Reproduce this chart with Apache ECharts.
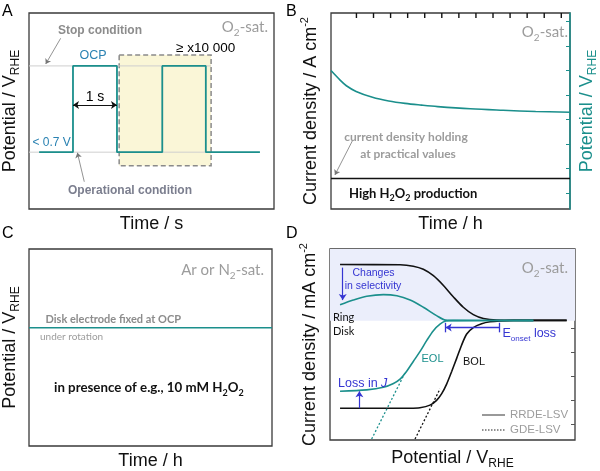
<!DOCTYPE html>
<html><head><meta charset="utf-8">
<script src="https://cdn.jsdelivr.net/npm/echarts@6/dist/echarts.min.js"></script>
<style>html,body{margin:0;padding:0;background:#fff}#c{width:600px;height:471px}</style>
</head><body><div id="c"></div>
<script>
// ---------- Panel A: potential cycling (x = time / s, y = normalized potential)
const aTimes = [0.23, 1.0, 1.0, 2.0, 2.0, 3.03, 3.03, 4.02, 4.02, 5.25];
const aLevels = [0.29, 0.29, 0.73, 0.73, 0.29, 0.29, 0.73, 0.73, 0.29, 0.29];
const aStopLevel = 0.73;
const aOperLevel = 0.29;
const aRefEnd = 4.14;
const aRepeatBoxX = [2.05, 4.14];
const aRepeatBoxY = [0.221, 0.786];
// ---------- Panel B: chronopotentiometry (x = time / h)
const bTimes = [0, 0.52, 0.90, 1.47, 2.43, 3.38, 4.34, 5.30, 6.25, 8.16, 10.08, 11.99, 14];
const bPotential = [5.65, 5.27, 5.03, 4.80, 4.56, 4.41, 4.31, 4.24, 4.18, 4.09, 4.03, 3.98, 3.95];
const bCurrent = 1.25;
const bTopTicks = [1.49, 2.49, 3.49, 4.49, 5.49, 6.49, 7.49, 8.49, 9.49, 10.49, 11.49, 12.49, 13.49];
const bRightTicks = [0.65, 1.65, 2.65, 3.65, 4.65, 5.65, 6.65, 7.65];
// ---------- Panel C: OCP hold
const cOCP = 4.8;
// ---------- Panel D: LSV curves (x = potential, y = current density)
const dRingBOLx = [0.41, 2.86, 3.40, 3.81, 4.22, 4.63, 5.03, 5.44, 5.85, 6.26, 6.80, 7.62, 9.66];
const dRingBOLy = [7.35, 7.34, 7.28, 7.15, 6.88, 6.47, 6.00, 5.56, 5.25, 5.09, 5.02, 5.01, 5.01];
const dRingEOLx = [0.41, 0.95, 1.50, 2.18, 2.73, 3.27, 3.81, 4.35, 4.72, 5.17, 8.30];
const dRingEOLy = [5.66, 5.86, 6.02, 6.09, 6.04, 5.86, 5.56, 5.21, 5.02, 5.00, 5.01];
const dDiskEOLx = [0.41, 1.50, 2.18, 2.59, 2.86, 3.13, 3.40, 3.67, 3.95, 4.22, 4.49, 4.72, 5.03, 8.30];
const dDiskEOLy = [2.04, 2.10, 2.21, 2.37, 2.55, 2.88, 3.29, 3.70, 4.17, 4.58, 4.85, 4.98, 5.01, 5.00];
const dDiskBOLx = [0.41, 3.27, 3.67, 4.08, 4.35, 4.56, 4.76, 4.97, 5.17, 5.37, 5.58, 5.85, 6.19, 6.53, 6.94, 7.48, 9.66];
const dDiskBOLy = [1.33, 1.33, 1.35, 1.46, 1.66, 1.94, 2.34, 2.88, 3.42, 3.97, 4.44, 4.71, 4.87, 4.95, 4.99, 5.01, 5.01];
const dGdeEOLx = [1.70, 3.06];
const dGdeEOLy = [0.04, 2.81];
const dGdeBOLx = [3.47, 4.49];
const dGdeBOLy = [0.04, 2.14];
const dRingZone = [5.0, 8];
const dRightTicks = [0.68, 1.68, 2.68, 3.68, 4.68, 5.68, 6.68];

const TEAL = '#1b8f8c', BLUE = '#3535d2', OCPBLUE = '#2a82b2', GRAY = '#8c8c8c', LGRAY = '#9c9c9c';
const SANS = 'Liberation Sans', HUM = 'Lato';
const zip = (xs, ys) => xs.map((x, i) => [x, ys[i]]);

const nameRich = (c) => ({
  n: {fontSize: 18, fontFamily: SANS, color: c, lineHeight: 24, verticalAlign: 'middle'},
  s: {fontSize: 12, fontFamily: SANS, color: c, lineHeight: 12, verticalAlign: 'bottom'},
  p: {fontSize: 11, fontFamily: SANS, color: c, lineHeight: 12, verticalAlign: 'top'}
});
const axisName = (txt, c, gap, rot) => ({
  name: txt, nameLocation: 'middle', nameGap: gap, nameRotate: rot,
  nameTextStyle: {color: c, fontSize: 18, fontFamily: SANS, rich: nameRich(c)}
});
const plainAxis = (gi, min, max, extra) => Object.assign({
  gridIndex: gi, type: 'value', min: min, max: max,
  axisLine: {show: false, onZero: false}, axisTick: {show: false}, axisLabel: {show: false}, splitLine: {show: false}
}, extra || {});

function arrowLine(from, to, color, sym, width, size) {
  return [{coord: from, symbol: sym[0], symbolSize: size, lineStyle: {color: color, width: width, type: 'solid'}},
          {coord: to, symbol: sym[1], symbolSize: size}];
}
function markArrows(list) {
  return {silent: true, animation: false, label: {show: false}, symbol: ['none', 'none'], data: list};
}

function txt(x, y, text, o) {
  o = o || {};
  const fs = o.size || 12;
  const fam = o.family || SANS;
  const col = o.color || '#000';
  const fw = o.weight || 'normal';
  const ss = o.sub || 0.68;
  return {
    type: 'text', x: x, y: y, z: 100, silent: true,
    style: {
      text: text, fill: col, fontSize: fs, fontFamily: fam, fontWeight: fw,
      align: o.align || 'left', verticalAlign: 'middle',
      rich: {
        m: {fontSize: fs, fontFamily: fam, fontWeight: fw, color: col, lineHeight: fs + 6, verticalAlign: 'middle'},
        i: {fontSize: fs, fontFamily: fam, fontWeight: fw, color: col, lineHeight: fs + 6, verticalAlign: 'middle', fontStyle: 'italic'},
        s: {fontSize: Math.round(fs * ss), fontFamily: fam, fontWeight: fw, color: col, lineHeight: Math.round(fs * ss), verticalAlign: 'bottom'}
      }
    }
  };
}

const gridBox = (l, t, w, h) => ({left: l, top: t, width: w, height: h, show: true, borderColor: '#3a3a3a', borderWidth: 1.3, backgroundColor: 'transparent'});

const option = {
  animation: false,
  backgroundColor: '#fff',
  grid: [gridBox(29, 13, 245, 196), gridBox(331, 13, 244, 196), gridBox(28, 249, 244, 197), gridBox(330, 249, 245, 197)],
  xAxis: [
    plainAxis(0, 0, 5.57, axisName('Time / s', '#111', 6, 0)),
    plainAxis(1, 0, 14, axisName('Time / h', '#111', 6, 0)),
    plainAxis(2, 0, 10, axisName('Time / h', '#111', 6, 0)),
    plainAxis(3, 0, 10, axisName('{n|Potential / V}{s|RHE}', '#111', 6, 0))
  ],
  yAxis: [
    plainAxis(0, 0, 1, axisName('{n|Potential / V}{s|RHE}', '#111', 7, 90)),
    plainAxis(1, 0, 8, Object.assign({position: 'left'}, axisName('{n|Current density / A cm}{p|-2}', '#111', 8, 90))),
    plainAxis(1, 0, 8, Object.assign({position: 'right',
      axisLine: {show: true, onZero: false, lineStyle: {color: TEAL, width: 1.5}},
      axisTick: {show: true, inside: true, length: 4, customValues: bRightTicks, lineStyle: {color: TEAL, width: 1}}},
      axisName('{n|Potential / V}{s|RHE}', TEAL, 5, 90))),
    plainAxis(2, 0, 8, axisName('{n|Potential / V}{s|RHE}', '#111', 7, 90)),
    plainAxis(3, 0, 8, Object.assign({position: 'left'}, axisName('{n|Current density / mA cm}{p|-2}', '#111', 8, 90))),
    plainAxis(3, 0, 8, {position: 'right', axisTick: {show: true, inside: true, length: 4, customValues: dRightTicks, lineStyle: {color: '#555', width: 1}}})
  ],
  series: [
    // ---- A
    {type: 'line', xAxisIndex: 0, yAxisIndex: 0, z: 1, symbol: 'none', silent: true,
     data: [[0, aStopLevel], [aRefEnd, aStopLevel]], lineStyle: {color: '#cfcfcf', width: 1},
     markArea: {silent: true, itemStyle: {color: '#faf6d7', borderColor: '#8a8a8a', borderWidth: 1.5, borderType: [5, 3]},
       data: [[{coord: [aRepeatBoxX[0], aRepeatBoxY[1]]}, {coord: [aRepeatBoxX[1], aRepeatBoxY[0]]}]]}},
    {type: 'line', xAxisIndex: 0, yAxisIndex: 0, z: 1, symbol: 'none', silent: true,
     data: [[0, aOperLevel], [aRefEnd, aOperLevel]], lineStyle: {color: '#cfcfcf', width: 1}},
    {type: 'line', xAxisIndex: 0, yAxisIndex: 0, z: 3, symbol: 'none', silent: true,
     data: zip(aTimes, aLevels), lineStyle: {color: TEAL, width: 1.8},
     markLine: markArrows([
       arrowLine([1.0, 0.531], [2.0, 0.531], '#111', ['arrow', 'arrow'], 1, 6),
       arrowLine([0.72, 0.871], [0.38, 0.74], '#777', ['none', 'arrow'], 0.8, 5),
       arrowLine([1.257, 0.139], [1.10, 0.287], '#777', ['none', 'arrow'], 0.8, 5)
     ])},
    // ---- B
    {type: 'line', xAxisIndex: 1, yAxisIndex: 2, z: 3, symbol: 'none', smooth: 0.35, silent: true,
     data: zip(bTimes, bPotential), lineStyle: {color: TEAL, width: 1.6}},
    {type: 'line', xAxisIndex: 1, yAxisIndex: 1, z: 3, symbol: 'none', silent: true,
     data: [[0, bCurrent], [14, bCurrent]], lineStyle: {color: '#111', width: 1.5},
     markLine: markArrows([arrowLine([1.28, 2.82], [0.23, 1.39], '#777', ['none', 'arrow'], 0.8, 5)])},
    // top-edge minor ticks of panel B (small rectangles hanging inside from the top border)
    {type: 'scatter', xAxisIndex: 1, yAxisIndex: 1, z: 6, silent: true, clip: false,
     symbol: 'rect', symbolSize: [1.4, 5], symbolOffset: [0, 2.5], itemStyle: {color: '#111', opacity: 1},
     data: bTopTicks.map(t => [t, 8])},
    // ---- C
    {type: 'line', xAxisIndex: 2, yAxisIndex: 3, z: 3, symbol: 'none', silent: true,
     data: [[0, cOCP], [10, cOCP]], lineStyle: {color: TEAL, width: 1.6}},
    // ---- D
    {type: 'line', xAxisIndex: 3, yAxisIndex: 4, z: 3, symbol: 'none', smooth: 0.3, silent: true,
     data: zip(dRingBOLx, dRingBOLy), lineStyle: {color: '#111', width: 1.6},
     markArea: {silent: true, itemStyle: {color: '#ebeefb'},
       data: [[{coord: [0, dRingZone[1]]}, {coord: [10, dRingZone[0]]}]]}},
    {type: 'line', xAxisIndex: 3, yAxisIndex: 4, z: 3, symbol: 'none', smooth: 0.3, silent: true,
     data: zip(dDiskBOLx, dDiskBOLy), lineStyle: {color: '#111', width: 1.6}},
    {type: 'line', xAxisIndex: 3, yAxisIndex: 4, z: 4, symbol: 'none', smooth: 0.3, silent: true,
     data: zip(dRingEOLx, dRingEOLy), lineStyle: {color: TEAL, width: 1.6}},
    {type: 'line', xAxisIndex: 3, yAxisIndex: 4, z: 4, symbol: 'none', smooth: 0.3, silent: true,
     data: zip(dDiskEOLx, dDiskEOLy), lineStyle: {color: TEAL, width: 1.6}},
    {type: 'line', xAxisIndex: 3, yAxisIndex: 4, z: 3, symbol: 'none', silent: true,
     data: zip(dGdeEOLx, dGdeEOLy), lineStyle: {color: TEAL, width: 1.3, type: [2, 2]}},
    {type: 'line', xAxisIndex: 3, yAxisIndex: 4, z: 3, symbol: 'none', silent: true,
     data: zip(dGdeBOLx, dGdeBOLy), lineStyle: {color: '#111', width: 1.3, type: [2, 2]},
     markLine: markArrows([
       arrowLine([0.52, 7.22], [0.52, 5.86], BLUE, ['none', 'arrow'], 1.2, 6),
       arrowLine([1.20, 1.33], [1.20, 2.04], BLUE, ['none', 'arrow'], 1.2, 6),
       arrowLine([4.72, 4.71], [6.90, 4.71], BLUE, ['arrow', 'none'], 1.3, 6),
       arrowLine([4.72, 4.91], [4.72, 4.51], BLUE, ['none', 'none'], 1.3, 4),
       arrowLine([6.90, 4.91], [6.90, 4.51], BLUE, ['none', 'none'], 1.3, 4)
     ])}
  ],
  graphic: [
    // panel letters
    txt(2, 12, 'A', {size: 16}), txt(286, 12, 'B', {size: 16}),
    txt(2, 234, 'C', {size: 16}), txt(286, 234, 'D', {size: 16}),
    // A
    txt(100, 31, 'Stop condition', {size: 12, weight: 'bold', color: GRAY, align: 'center'}),
    txt(93, 56, 'OCP', {size: 12.5, color: OCPBLUE, align: 'center'}),
    txt(95, 97, '1 s', {size: 14, align: 'center'}),
    txt(176, 48, '≥ x10 000', {size: 13.5}),
    txt(268, 27, '{m|O}{s|2}{m|-sat.}', {size: 15, family: HUM, color: LGRAY, align: 'right'}),
    txt(32.5, 143, '< 0.7 V', {size: 12, color: OCPBLUE}),
    txt(130, 191, 'Operational condition', {size: 12, weight: 'bold', color: '#7b7e8e', align: 'center'}),
    // B
    txt(568, 32, '{m|O}{s|2}{m|-sat.}', {size: 15, family: HUM, color: LGRAY, align: 'right'}),
    txt(406, 137.5, 'current density holding', {size: 12, family: HUM, weight: 'bold', color: LGRAY, align: 'center'}),
    txt(408, 154.5, 'at practical values', {size: 12, family: HUM, weight: 'bold', color: LGRAY, align: 'center'}),
    txt(349, 193.5, '{m|High H}{s|2}{m|O}{s|2}{m| production}', {size: 13, family: HUM, weight: 'bold', color: '#111'}),
    // C
    txt(264, 270, '{m|Ar or N}{s|2}{m|-sat.}', {size: 15, family: HUM, color: LGRAY, align: 'right'}),
    txt(45.5, 319, 'Disk electrode fixed at OCP', {size: 11, family: HUM, weight: 'bold', color: GRAY}),
    txt(40, 337, 'under rotation', {size: 10, family: HUM, color: LGRAY}),
    txt(54, 388, '{m|in presence of e.g., 10 mM H}{s|2}{m|O}{s|2}', {size: 13.3, family: HUM, weight: 'bold', color: '#111'}),
    // D
    txt(568, 268, '{m|O}{s|2}{m|-sat.}', {size: 15, family: HUM, color: LGRAY, align: 'right'}),
    txt(373.5, 273.5, 'Changes', {size: 10.5, color: BLUE, align: 'center'}),
    txt(373, 286, 'in selectivity', {size: 10.5, color: BLUE, align: 'center'}),
    txt(333, 317.5, 'Ring', {size: 11, family: HUM, color: '#111'}),
    txt(333, 331, 'Disk', {size: 11, family: HUM, color: '#111'}),
    txt(502.5, 334, '{m|E}{s|onset}{m| loss}', {size: 12.5, color: BLUE, sub: 0.62}),
    txt(421.5, 359, 'EOL', {size: 11, color: TEAL}),
    txt(463, 362, 'BOL', {size: 11, color: '#111'}),
    txt(338, 384, '{m|Loss in }{i|J}', {size: 12.5, color: BLUE}),
    txt(510, 415, 'RRDE-LSV', {size: 11.5, color: LGRAY}),
    txt(510, 430, 'GDE-LSV', {size: 11.5, color: LGRAY}),
    {type: 'line', silent: true, z: 100, shape: {x1: 482, y1: 415, x2: 505, y2: 415}, style: {stroke: '#555', lineWidth: 1.2}},
    {type: 'line', silent: true, z: 100, shape: {x1: 482, y1: 430, x2: 505, y2: 430}, style: {stroke: '#222', lineWidth: 1.2, lineDash: [1.5, 1.5]}}
  ]
};
const chart = echarts.init(document.getElementById('c'), null, {renderer: 'canvas'});
chart.setOption(option);
</script></body></html>
